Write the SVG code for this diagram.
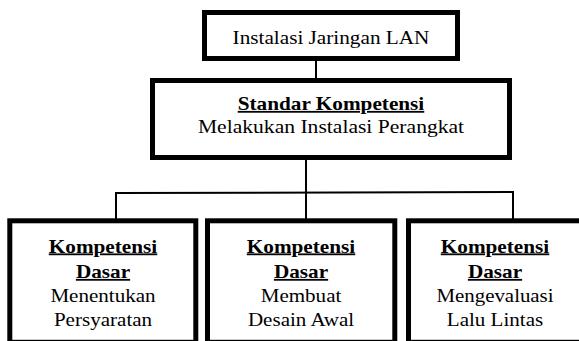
<svg xmlns="http://www.w3.org/2000/svg" width="579" height="341" viewBox="0 0 579 341">
<style>
.box{fill:#fff;stroke:#000;stroke-width:5}
.t{font-family:"Liberation Serif","Times New Roman",serif;font-size:18px;fill:#000;text-anchor:middle}
.b{font-weight:bold;text-decoration:underline}
.c{fill:none;stroke:#000;stroke-width:2}
</style>
<rect width="579" height="341" fill="#fff"/>
<g id="connectors">
<line class="c" x1="316" y1="60" x2="316" y2="79"/>
<line class="c" x1="306" y1="159" x2="306" y2="219"/>
<line class="c" x1="115" y1="193" x2="514" y2="192"/>
<line class="c" x1="116" y1="193" x2="116" y2="219"/>
<line class="c" x1="513" y1="192" x2="513" y2="219"/>
</g>
<g id="node-top">
<rect class="box" x="204.5" y="12.5" width="253" height="46"/>
<text class="t" transform="translate(331,44) scale(1.18,1)">Instalasi Jaringan LAN</text>
</g>
<g id="node-sk">
<rect class="box" x="152.5" y="80.5" width="357" height="77"/>
<text class="t b" transform="translate(331,110) scale(1.18,1)">Standar Kompetensi</text>
<text class="t" transform="translate(331,133) scale(1.2,1)">Melakukan Instalasi Perangkat</text>
</g>
<g id="node-kd1">
<rect class="box" x="9.8" y="220.8" width="186" height="121.5"/>
<text class="t b" transform="translate(103,252.5) scale(1.18,1)">Kompetensi</text>
<text class="t b" transform="translate(103,278) scale(1.18,1)">Dasar</text>
<text class="t" transform="translate(103,302) scale(1.17,1)">Menentukan</text>
<text class="t" transform="translate(103,326) scale(1.17,1)">Persyaratan</text>
</g>
<g id="node-kd2">
<rect class="box" x="207.5" y="220.8" width="187.3" height="121.5"/>
<text class="t b" transform="translate(301,252.5) scale(1.18,1)">Kompetensi</text>
<text class="t b" transform="translate(301,278) scale(1.18,1)">Dasar</text>
<text class="t" transform="translate(301,302) scale(1.17,1)">Membuat</text>
<text class="t" transform="translate(301,326) scale(1.17,1)">Desain Awal</text>
</g>
<g id="node-kd3">
<rect class="box" x="408.5" y="220.8" width="180" height="121.5"/>
<text class="t b" transform="translate(495,252.5) scale(1.18,1)">Kompetensi</text>
<text class="t b" transform="translate(495,278) scale(1.18,1)">Dasar</text>
<text class="t" transform="translate(495,302) scale(1.16,1)">Mengevaluasi</text>
<text class="t" transform="translate(495,326) scale(1.17,1)">Lalu Lintas</text>
</g>
</svg>
